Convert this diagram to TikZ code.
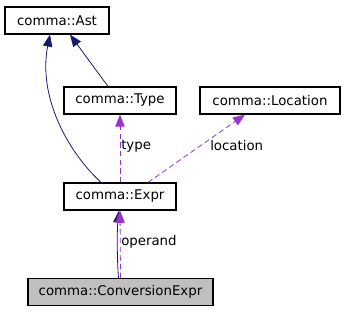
\documentclass[tikz,border=0pt]{standalone}
\usepackage{fontspec}
\setmainfont{DejaVu Sans}
\usetikzlibrary{arrows.meta,calc}

\definecolor{inhcol}{HTML}{191970}
\definecolor{usecol}{HTML}{9A32CD}
\definecolor{selfcol}{HTML}{BFBFBF}

\begin{document}
\begin{tikzpicture}[
		x=0.75pt, y=-0.75pt,
		every node/.style={font=\fontsize{10pt}{12pt}\selectfont},
		classbox/.style={draw, line width=0.9pt, rectangle, minimum height=20.25pt, inner sep=0pt, fill=white},
		inherit/.style={draw=inhcol, line width=0.6pt, -{Triangle[length=9pt,width=7pt]}, inhcol},
		usage/.style={draw=usecol, line width=0.6pt, dashed, dash pattern=on 4pt off 2.5pt, -{Triangle[length=9pt,width=7pt,fill=usecol]}, usecol},
		edgelabel/.style={inner sep=0pt, anchor=west, text=black}
		]
		
		\useasboundingbox (0,0) rectangle (344,312);
		
		\node[classbox, minimum width=78pt] (ast) at (57,20.5) {comma::Ast};
		\node[classbox, minimum width=84pt] (type) at (120,100.5) {comma::Type};
		\node[classbox, minimum width=105pt] (location) at (270,100.5) {comma::Location};
		\node[classbox, minimum width=84pt] (expr) at (120,196.5) {comma::Expr};
		\node[classbox, minimum width=138.75pt, fill=selfcol] (conv) at (120.5,292) {comma::ConversionExpr};
		
		\draw[inherit] ($(expr.north)+(-19,0)$) .. controls (66,150) and (38,95) .. ($(ast.south)+(-7,0)$);
		\draw[inherit] ($(type.north)+(-12,0)$) -- ($(ast.south)+(13,0)$);
		\draw[usage] (expr.north) -- (type.south);
		\node[edgelabel] (typelabel) at (121,146) {type};
		\draw[usage] ($(expr.north)+(28,0)$) -- ($(location.south)+(-25,0)$);
		\node[edgelabel] (locationlabel) at (210,146) {location};
		\draw[inherit] ($(conv.north)+(-2,0)$) .. controls (117,260) and (117,230) .. ($(expr.south)+(-1,0)$);
		\draw[usage] (conv.north) -- (expr.south);
		\node[edgelabel] (operandlabel) at (121,242) {operand};
		
	\end{tikzpicture}
\end{document}
